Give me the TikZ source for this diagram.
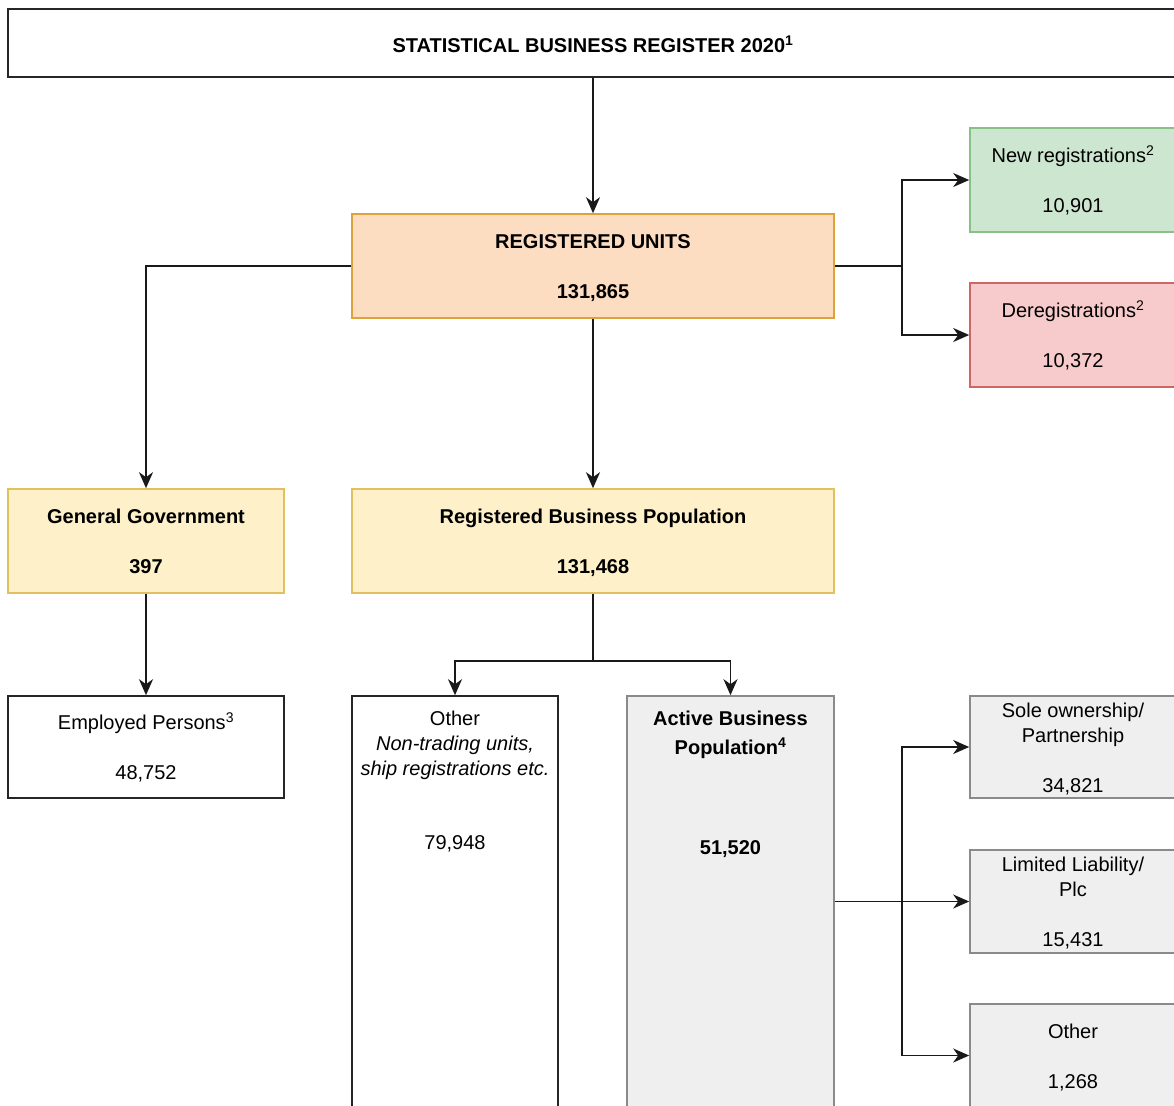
\documentclass[tikz,border=0pt]{standalone}
\usepackage{fontspec}
\setmainfont{Liberation Sans}
\usetikzlibrary{arrows.meta}
\definecolor{peachfill}{HTML}{FDDDC1}
\definecolor{peachline}{HTML}{DDA33A}
\definecolor{yelfill}{HTML}{FEF1CA}
\definecolor{yelline}{HTML}{E0C060}
\definecolor{grnfill}{HTML}{CDE6D0}
\definecolor{grnline}{HTML}{88C08A}
\definecolor{redfill}{HTML}{F7CACB}
\definecolor{redline}{HTML}{CF6666}
\definecolor{greyfill}{HTML}{EFEFEF}
\definecolor{greyline}{HTML}{8A8A8A}
\newcommand\tstr{\rule{0pt}{19bp}}
\newcommand\bstr{\rule[-3.6bp]{0pt}{3.6bp}}
\begin{document}
\begin{tikzpicture}[x=1bp,y=-1bp,
  box/.style={draw, rectangle, line width=1.6bp, inner sep=0pt, align=center,
    font=\fontsize{20bp}{25bp}\selectfont},
  txt/.style={inner sep=0pt, align=center, font=\fontsize{20bp}{25bp}\selectfont},
  plain/.style={box, draw=black!85, fill=white},
  peach/.style={box, draw=peachline, fill=peachfill},
  yel/.style={box, draw=yelline, fill=yelfill},
  grn/.style={box, draw=grnline, fill=grnfill},
  rd/.style={box, draw=redline, fill=redfill},
  gry/.style={box, draw=greyline, fill=greyfill},
  tip/.tip={Stealth[length=16bp,width=14bp,inset=5bp]},
  arr/.style={draw=black!90, line width=1.7bp, -tip},
  ln/.style={draw=black!90, line width=1.7bp}]
\useasboundingbox (0,0) rectangle (1174,1106);
\clip (0,0) rectangle (1174,1106);

\node[plain, minimum width=1170bp, minimum height=68bp] (title) at (593,43)
  {\rule{0pt}{23bp}\bfseries STATISTICAL BUSINESS REGISTER 2020\textsuperscript{1}\bstr};
\node[peach, minimum width=482bp, minimum height=104bp] (ru) at (593,266)
  {\tstr\bfseries REGISTERED UNITS\\[25bp]\bfseries 131,865\bstr};
\node[grn, minimum width=206bp, minimum height=104bp] (newreg) at (1073,180)
  {\tstr New registrations\textsuperscript{2}\\[25bp]10,901\bstr};
\node[rd, minimum width=206bp, minimum height=104bp] (dereg) at (1073,335)
  {\tstr Deregistrations\textsuperscript{2}\\[25bp]10,372\bstr};
\node[yel, minimum width=276bp, minimum height=104bp] (gg) at (146,541)
  {\tstr\bfseries General Government\\[25bp]\bfseries 397\bstr};
\node[yel, minimum width=482bp, minimum height=104bp] (rbp) at (593,541)
  {\tstr\bfseries Registered Business Population\\[25bp]\bfseries 131,468\bstr};
\node[plain, minimum width=276bp, minimum height=102bp] (emp) at (146,747)
  {\tstr Employed Persons\textsuperscript{3}\\[25bp]48,752\bstr};
\node[plain, minimum width=206bp, minimum height=440bp] (oth) at (455,916) {};
\node[txt, anchor=north] (othtxt) at (455,711)
  {Other\\\textit{Non-trading units,}\\\textit{ship registrations etc.}\\[49bp]79,948};
\node[gry, minimum width=207bp, minimum height=440bp] (abp) at (730.5,916) {};
\node[txt, anchor=north] (abptxt) at (730.5,711)
  {\bfseries Active Business\\[4bp]\bfseries Population\textsuperscript{4}\\[75bp]\bfseries 51,520};
\node[gry, minimum width=206bp, minimum height=102bp] (sole) at (1073,747)
  {\tstr Sole ownership/\\Partnership\\[25bp]34,821\bstr};
\node[gry, minimum width=206bp, minimum height=103bp] (ltd) at (1073,901.5)
  {\tstr Limited Liability/\\Plc\\[25bp]15,431\bstr};
\node[gry, minimum width=206bp, minimum height=103bp] (othr) at (1073,1055.5)
  {\tstr Other\\[25bp]1,268\bstr};

\coordinate (j1) at (902,266);
\coordinate (j2) at (593,661);
\coordinate (j3) at (902,901.5);

\draw[arr] (title.south) -- (ru.north);
\draw[ln] (ru.east) -- (j1);
\draw[arr] (j1) |- (newreg.west);
\draw[arr] (j1) |- (dereg.west);
\draw[arr] (ru.west) -| (gg.north);
\draw[arr] (ru.south) -- (rbp.north);
\draw[arr] (gg.south) -- (emp.north);
\draw[ln] (rbp.south) -- (j2);
\draw[arr] (j2) -| (oth.north);
\draw[arr] (j2) -| (abp.north);
\draw[arr] (abp.east |- ltd.west) -- (ltd.west);
\draw[arr] (j3) |- (sole.west);
\draw[arr] (j3) |- (othr.west);
\end{tikzpicture}
\end{document}
